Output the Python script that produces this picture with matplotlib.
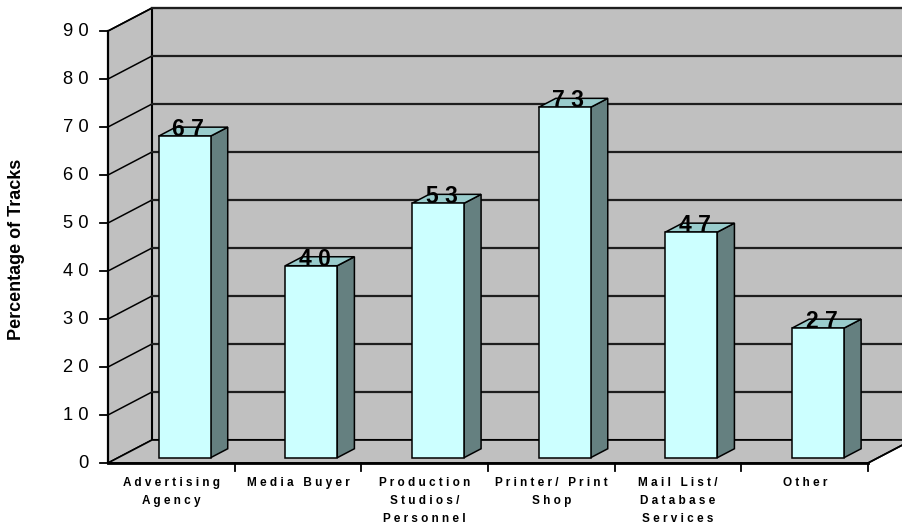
import numpy as np
import matplotlib.pyplot as plt
from matplotlib.patches import Polygon

plt.rcParams['font.family'] = ['Liberation Sans', 'DejaVu Sans']

categories = ['Advertising\nAgency', 'Media Buyer', 'Production\nStudios/\nPersonnel',
              'Printer/ Print\nShop', 'Mail List/\nDatabase\nServices', 'Other']
values = [67, 40, 53, 73, 47, 27]
yticks = [0, 10, 20, 30, 40, 50, 60, 70, 80, 90]
ylabel = 'Percentage of Tracks'

# 3D look: how far the back wall sits behind the front plane (data units)
DX, DY = 0.347, 4.79
VMAX = 90
NCAT = len(categories)


def proj(x, v, d):
    return (x + d * DX, v + d * DY)


def spaced(s):
    # wide tracking like the old spreadsheet charts
    return '\n'.join(' '.join(line) for line in s.split('\n'))


fig = plt.figure(figsize=(9.02, 5.29), dpi=100)
ax = fig.add_axes([0, 0, 1, 1])
ax.set_xlim(-0.8526, 6.268)
ax.set_ylim(-13.75, 96.46)
ax.axis('off')

wall = '#c0c0c0'
# left wall, back wall, floor
ax.add_patch(Polygon([proj(0, 0, 0), proj(0, 0, 1), proj(0, VMAX, 1), proj(0, VMAX, 0)],
                     closed=True, fc=wall, ec='black', lw=1.2, zorder=1))
ax.add_patch(Polygon([proj(0, 0, 1), proj(NCAT + 1, 0, 1), proj(NCAT + 1, VMAX, 1), proj(0, VMAX, 1)],
                     closed=True, fc=wall, ec='black', lw=1.5, zorder=1))
ax.add_patch(Polygon([proj(0, 0, 0), proj(NCAT, 0, 0), proj(NCAT, 0, 1), proj(0, 0, 1)],
                     closed=True, fc=wall, ec='black', lw=1.2, zorder=2))
ax.plot(*zip(proj(NCAT, 0, 0), proj(NCAT, 0, 1.5)), color='black', lw=1.2, zorder=2)

# gridlines on the walls
for t in yticks[1:]:
    ax.plot(*zip(proj(0, t, 0), proj(0, t, 1)), color='black', lw=1.1, zorder=1.5)
    ax.plot(*zip(proj(0, t, 1), proj(NCAT + 1, t, 1)), color='#1e1e1e', lw=1.6, zorder=1.5)

# axes lines and ticks
ax.plot([0, 0], [0, VMAX], color='black', lw=1.6, zorder=3)
ax.plot([0, NCAT], [0, 0], color='black', lw=2, zorder=3)
for t in yticks:
    ax.plot([-0.063, 0], [t, t], color='black', lw=1.3, zorder=3)
    ax.text(-0.155, t, spaced(str(t)), ha='right', va='center', fontsize=13.2, color='black')
for i in range(1, NCAT + 1):
    ax.plot([i, i], [0, -1.7], color='black', lw=1.3, zorder=3)

for i, lab in enumerate(categories):
    ax.text(i + 0.5, -2.9, spaced(lab), ha='center', va='top', fontsize=8.5,
            fontweight='bold', linespacing=1.65)

ax.text(-0.72, 44.6, ylabel, rotation=90, ha='center', va='center',
        fontsize=13, fontweight='bold')

# bars
front_c, side_c, top_c = '#ccffff', '#658080', '#99cccc'
d0, d1 = 0.23, 0.62
bw = 0.41
for i, v in enumerate(values):
    x0 = i + 0.32
    x1 = x0 + bw
    front = [proj(x0, 0, d0), proj(x1, 0, d0), proj(x1, v, d0), proj(x0, v, d0)]
    side = [proj(x1, 0, d0), proj(x1, 0, d1), proj(x1, v, d1), proj(x1, v, d0)]
    top = [proj(x0, v, d0), proj(x1, v, d0), proj(x1, v, d1), proj(x0, v, d1)]
    for pts, c in ((side, side_c), (top, top_c), (front, front_c)):
        ax.add_patch(Polygon(pts, closed=True, fc=c, ec='black', lw=1.1, zorder=4))
    lx, ly = proj((x0 + x1) / 2 + 0.03, v, d0)
    ax.text(lx, ly, spaced(str(v)), ha='center', va='baseline', fontsize=16.5,
            fontweight='bold', zorder=5)

fig.savefig('out.png', dpi=100)
